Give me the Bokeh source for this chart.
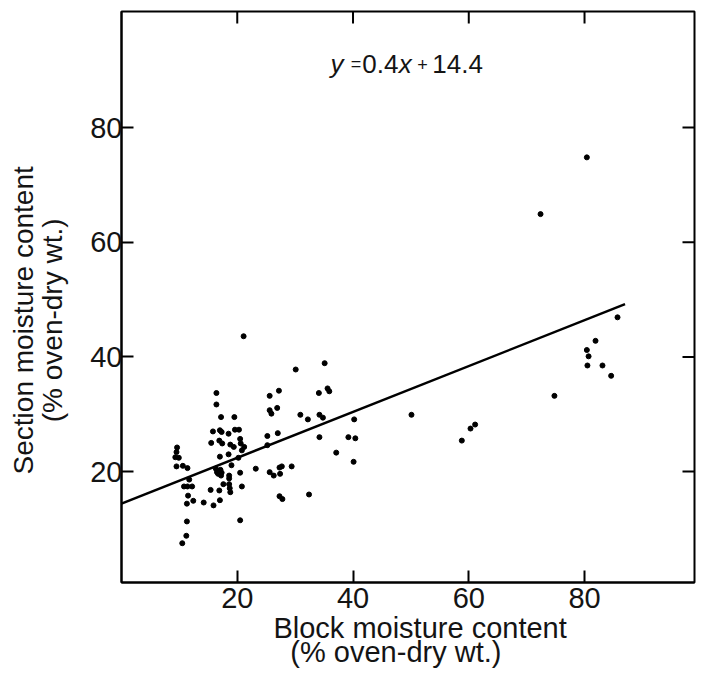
import math
from bokeh.plotting import figure
from bokeh.models import FixedTicker, Label, Range1d
from bokeh.embed import file_html
from bokeh.resources import INLINE

# Block moisture content (% oven-dry wt.)
block = [
    9.6, 9.5, 9.3, 9.9, 9.5, 10.6, 11.4, 11.7, 10.8, 11.4, 12.2, 11.5, 12.4, 11.3, 11.3, 11.2, 10.5,
    14.2, 15.9, 15.4, 15.5, 15.8, 16.4, 16.4,
    16.9, 17.0, 17.6, 17.2, 17.0, 17.3, 16.9, 17.4, 17.0,
    16.3, 16.5, 16.7, 17.2, 17.1, 17.3,
    18.5, 18.5, 18.6, 18.6, 18.6, 18.7, 18.8, 18.8, 19.4, 19.0, 19.5, 19.6,
    20.3, 20.5, 20.6, 21.2, 20.8, 20.2, 20.5, 20.8, 20.5, 21.1,
    23.2, 25.2, 25.2, 25.6, 27.2, 25.6, 25.9, 26.9, 27.0,
    25.6, 26.3, 27.4, 27.7, 27.3, 29.4, 27.3, 27.8, 30.1, 30.9,
    32.2, 32.4, 34.1, 35.6, 35.9, 35.1, 34.2, 34.8, 34.2, 37.1, 39.2, 40.4, 40.2, 40.1,
    50.1, 58.8, 60.3, 61.1, 72.4, 74.8, 80.4, 85.7, 81.9, 80.4, 80.7, 80.5, 83.1, 84.6,
]
# Section moisture content (% oven-dry wt.)
section = [
    24.2, 23.4, 22.5, 22.4, 20.9, 21.0, 20.6, 18.6, 17.4, 17.4, 17.4, 15.8, 14.9, 14.4, 11.3, 8.8, 7.5,
    14.6, 14.1, 16.8, 25.0, 27.0, 33.7, 31.7,
    16.7, 15.0, 17.8, 29.5, 27.2, 26.9, 25.4, 24.9, 22.6,
    20.5, 19.9, 19.6, 19.3, 20.3, 19.8,
    26.6, 23.0, 19.3, 18.8, 17.8, 17.1, 16.4, 24.7, 24.3, 21.1, 29.5, 27.3,
    27.3, 25.7, 24.9, 24.3, 23.7, 22.4, 19.8, 17.4, 11.5, 43.6,
    20.5, 26.2, 24.6, 33.2, 34.1, 30.7, 30.1, 31.1, 26.7,
    19.9, 19.3, 19.6, 20.9, 20.7, 20.9, 15.7, 15.2, 37.8, 29.9,
    29.1, 16.0, 33.7, 34.5, 34.0, 38.9, 29.9, 29.4, 26.0, 23.3, 26.0, 25.8, 29.1, 21.7,
    29.9, 25.4, 27.5, 28.2, 64.9, 33.2, 74.8, 46.9, 42.8, 41.2, 40.1, 38.5, 38.5, 36.7,
]

x_ticks = [20, 40, 60, 80]
y_ticks = [20, 40, 60, 80]

slope = 0.4
intercept = 14.4
fit_x = [0, 87]
fit_y = [slope * v + intercept for v in fit_x]

NB = "\u00a0"
x_title = NB * 3 + "Block moisture content\n(% oven-dry wt.)" + NB * 3
y_title = "Section moisture content" + NB * 6 + "\n(% oven-dry wt.)" + NB * 6

FONT = "Liberation Sans"
INK = "#141414"

X0, X1 = 0, 99
Y0, Y1 = 0.65, 100.24

p = figure(width=702, height=673, output_backend="svg", toolbar_location=None,
           x_range=Range1d(X0, X1), y_range=Range1d(Y0, Y1),
           min_border_left=121, min_border_right=8, min_border_top=11, min_border_bottom=91,
           x_axis_label=x_title, y_axis_label=y_title)
p.grid.visible = False
p.outline_line_color = "black"
p.outline_line_width = 2
p.background_fill_color = "white"
p.border_fill_color = "white"

def style_axis(ax, ticks):
    ax.ticker = FixedTicker(ticks=ticks)
    ax.major_tick_in = 12
    ax.major_tick_out = 0
    ax.minor_tick_in = 0
    ax.minor_tick_out = 0
    ax.major_tick_line_width = 2
    ax.major_tick_line_color = "black"
    ax.axis_line_width = 2
    ax.axis_line_color = "black"
    ax.major_label_text_font = FONT
    ax.major_label_text_font_size = "29px"
    ax.major_label_text_color = INK
    ax.axis_label_text_font = FONT
    ax.axis_label_text_font_style = "normal"
    ax.axis_label_text_color = INK

xa = p.xaxis[0]
style_axis(xa, x_ticks)
xa.major_label_standoff = 5
xa.axis_label_text_font_size = "29px"
xa.axis_label_text_line_height = 0.78
xa.axis_label_standoff = 1

ya = p.yaxis[0]
style_axis(ya, y_ticks)
ya.major_label_standoff = -1
ya.major_label_orientation = "horizontal"
ya.axis_label_text_font_size = "28px"
ya.axis_label_text_line_height = 0.95
ya.axis_label_standoff = 19

# inward ticks on the top and right edges of the frame
p.scatter(x_ticks, [Y1] * len(x_ticks), marker="dash", size=24, angle=math.pi / 2,
          line_color="black", line_width=2)
p.scatter([X1] * len(y_ticks), y_ticks, marker="dash", size=24,
          line_color="black", line_width=2)

p.line(fit_x, fit_y, line_color="black", line_width=2.5)
p.scatter(block, section, size=5, color="black", line_color="black")

# regression equation, y and x in italics
pieces = [
    (36.1, "y", "italic", "26px"),
    (39.6, "=", "normal", "18px"),
    (41.6, "0.4", "normal", "26px"),
    (47.9, "x", "italic", "26px"),
    (51.1, "+", "normal", "18px"),
    (53.7, "14.4", "normal", "26px"),
]
for px, txt, style, fs in pieces:
    p.add_layout(Label(x=px, y=91.05, text=txt, text_font=FONT, text_font_size=fs,
                       text_font_style=style, text_color=INK,
                       text_baseline="alphabetic", text_align="left"))

open("out.html", "w").write(file_html(p, INLINE))
